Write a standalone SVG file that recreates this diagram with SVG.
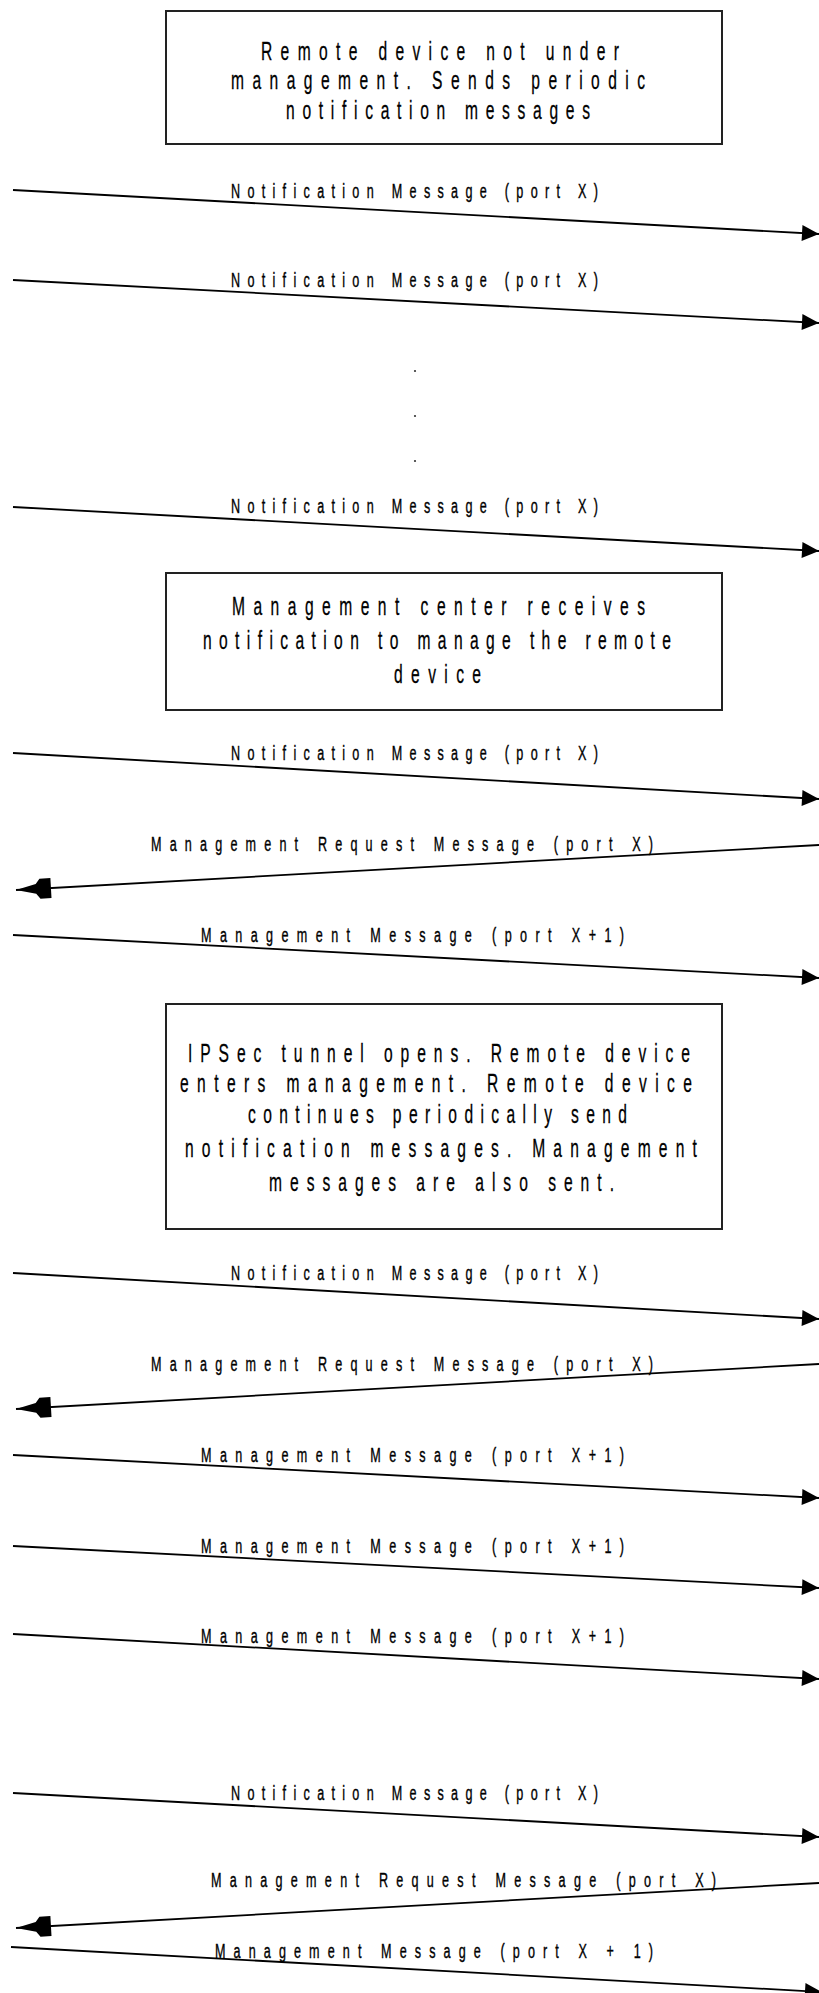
<svg xmlns="http://www.w3.org/2000/svg" width="819" height="1993" viewBox="0 0 819 1993">
<style>
.bg{fill:#fff}
.box{fill:none;stroke:#222;stroke-width:2}
.bt{font-family:"Liberation Sans",Arial,sans-serif;font-size:26px;fill:#000;stroke:#000;stroke-width:0.3}
.lb{font-family:"Liberation Sans",Arial,sans-serif;font-size:21px;fill:#000;stroke:#000;stroke-width:0.4}
.ln{stroke:#000;stroke-width:1.8;fill:none}
.r{marker-end:url(#hr)}
.l{marker-end:url(#hl)}
.dot{fill:#333}
</style>
<defs>
<marker id="hr" markerUnits="userSpaceOnUse" markerWidth="20" markerHeight="20" refX="17" refY="8" orient="auto" overflow="visible"><path d="M0,0 L17,8 L0,16 Z" fill="#000"/></marker>
<marker id="hl" markerUnits="userSpaceOnUse" markerWidth="36" markerHeight="22" refX="35" refY="10" orient="auto" overflow="visible"><path d="M0,0 L11,0 L15,5 L35,10 L15,15 L11,20 L0,20 Z" fill="#000"/></marker>
</defs>
<rect class="bg" x="0" y="0" width="819" height="1993"/>

<g id="box1">
<rect class="box" x="166" y="11" width="556" height="133"/>
<g transform="scale(0.6 1)">
<text class="bt" x="435" y="60" textLength="596.7" lengthAdjust="spacing">Remote device not under</text>
<text class="bt" x="385" y="89" textLength="690" lengthAdjust="spacing">management. Sends periodic</text>
<text class="bt" x="476.7" y="119" textLength="506.7" lengthAdjust="spacing">notification messages</text>
</g>
</g>

<g id="dots">
<circle class="dot" cx="415" cy="371" r="1.1"/>
<circle class="dot" cx="415" cy="416" r="1.1"/>
<circle class="dot" cx="415" cy="461" r="1.1"/>
</g>

<g id="box2">
<rect class="box" x="166" y="573" width="556" height="137"/>
<g transform="scale(0.6 1)">
<text class="bt" x="386.7" y="615" textLength="688.3" lengthAdjust="spacing">Management center receives</text>
<text class="bt" x="338.3" y="649" textLength="780" lengthAdjust="spacing">notification to manage the remote</text>
<text class="bt" x="656.7" y="683" textLength="145" lengthAdjust="spacing">device</text>
</g>
</g>

<g id="box3">
<rect class="box" x="166" y="1004" width="556" height="225"/>
<g transform="scale(0.6 1)">
<text class="bt" x="313.3" y="1062" textLength="836.7" lengthAdjust="spacing">IPSec tunnel opens. Remote device</text>
<text class="bt" x="300" y="1092" textLength="853.3" lengthAdjust="spacing">enters management. Remote device</text>
<text class="bt" x="413.3" y="1123" textLength="631.7" lengthAdjust="spacing">continues periodically send</text>
<text class="bt" x="308.3" y="1157" textLength="853.3" lengthAdjust="spacing">notification messages. Management</text>
<text class="bt" x="448.3" y="1191" textLength="575" lengthAdjust="spacing">messages are also sent.</text>
</g>
</g>

<g id="connectors">
<g id="m1"><line class="ln r" x1="13" y1="190" x2="819" y2="234"/><text class="lb" transform="scale(0.6 1)" x="385" y="198" textLength="611.7" lengthAdjust="spacing">Notification Message (port X)</text></g>
<g id="m2"><line class="ln r" x1="13" y1="280" x2="819" y2="323"/><text class="lb" transform="scale(0.6 1)" x="385" y="287" textLength="611.7" lengthAdjust="spacing">Notification Message (port X)</text></g>
<g id="m3"><line class="ln r" x1="13" y1="507" x2="819" y2="551"/><text class="lb" transform="scale(0.6 1)" x="385" y="513" textLength="611.7" lengthAdjust="spacing">Notification Message (port X)</text></g>
<g id="m4"><line class="ln r" x1="13" y1="753" x2="819" y2="799"/><text class="lb" transform="scale(0.6 1)" x="385" y="760" textLength="611.7" lengthAdjust="spacing">Notification Message (port X)</text></g>
<g id="m5"><line class="ln l" x1="819" y1="845" x2="16" y2="890"/><text class="lb" transform="scale(0.6 1)" x="251.7" y="851" textLength="836.7" lengthAdjust="spacing">Management Request Message (port X)</text></g>
<g id="m6"><line class="ln r" x1="13" y1="935" x2="819" y2="978"/><text class="lb" transform="scale(0.6 1)" x="335" y="942" textLength="705" lengthAdjust="spacing">Management Message (port X+1)</text></g>
<g id="m7"><line class="ln r" x1="13" y1="1273" x2="819" y2="1319"/><text class="lb" transform="scale(0.6 1)" x="385" y="1280" textLength="611.7" lengthAdjust="spacing">Notification Message (port X)</text></g>
<g id="m8"><line class="ln l" x1="819" y1="1364" x2="16" y2="1409"/><text class="lb" transform="scale(0.6 1)" x="251.7" y="1371" textLength="836.7" lengthAdjust="spacing">Management Request Message (port X)</text></g>
<g id="m9"><line class="ln r" x1="13" y1="1455" x2="819" y2="1498"/><text class="lb" transform="scale(0.6 1)" x="335" y="1462" textLength="705" lengthAdjust="spacing">Management Message (port X+1)</text></g>
<g id="m10"><line class="ln r" x1="13" y1="1546" x2="819" y2="1588"/><text class="lb" transform="scale(0.6 1)" x="335" y="1553" textLength="705" lengthAdjust="spacing">Management Message (port X+1)</text></g>
<g id="m11"><line class="ln r" x1="13" y1="1634" x2="819" y2="1679"/><text class="lb" transform="scale(0.6 1)" x="335" y="1643" textLength="705" lengthAdjust="spacing">Management Message (port X+1)</text></g>
<g id="m12"><line class="ln r" x1="13" y1="1793" x2="819" y2="1837"/><text class="lb" transform="scale(0.6 1)" x="385" y="1800" textLength="611.7" lengthAdjust="spacing">Notification Message (port X)</text></g>
<g id="m13"><line class="ln l" x1="819" y1="1883" x2="16" y2="1928"/><text class="lb" transform="scale(0.6 1)" x="351.7" y="1887" textLength="841.7" lengthAdjust="spacing">Management Request Message (port X)</text></g>
<g id="m14"><line class="ln r" x1="11" y1="1947" x2="822" y2="1992"/><text class="lb" transform="scale(0.6 1)" x="358.3" y="1958" textLength="730" lengthAdjust="spacing">Management Message (port X + 1)</text></g>
</g>
</svg>
